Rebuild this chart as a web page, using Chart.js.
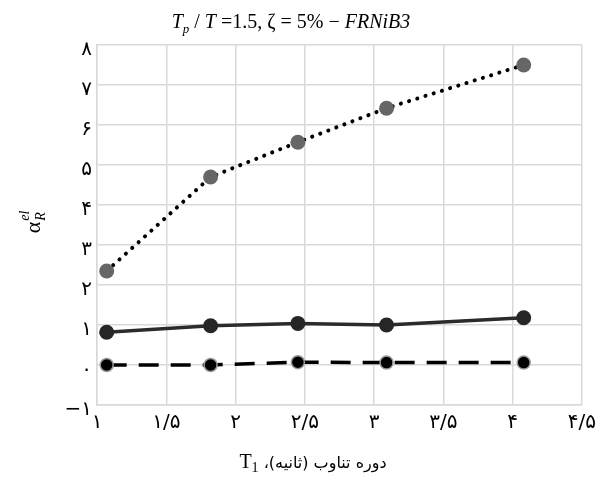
<!DOCTYPE html>
<html>
<head>
<meta charset="utf-8">
<script src="https://cdn.jsdelivr.net/npm/chart.js@4/dist/chart.umd.min.js"></script>
<style>
  html, body { margin: 0; padding: 0; background: #fff; }
  #wrap { width: 602px; height: 481px; }
</style>
</head>
<body>
<div id="wrap"><canvas id="lineChart"></canvas></div>
<script>
// periods T1 (s)
var periods = [1.07, 1.82, 2.45, 3.09, 4.08];
// alpha_R^el series
var dottedSeries = [2.35, 4.7, 5.57, 6.42, 7.5];
var solidSeries = [0.82, 0.98, 1.04, 1.0, 1.18];
var dashedSeries = [0.0, 0.0, 0.07, 0.06, 0.06];

var xTicks = [1, 1.5, 2, 2.5, 3, 3.5, 4, 4.5];
var yTicks = [-1, 0, 1, 2, 3, 4, 5, 6, 7, 8];

var faDigits = ['۰', '۱', '۲', '۳', '۴', '۵', '۶', '۷', '۸', '۹'];
function toFa(v) {
    var s = String(Math.round(v * 10) / 10);
    var out = '';
    for (var i = 0; i < s.length; i++) {
        var c = s[i];
        if (c >= '0' && c <= '9') out += faDigits[+c];
        else if (c === '.') out += '/';
        else if (c === '-') out += '−';
        else out += c;
    }
    return out;
}

function pts(ys) {
    return periods.map(function (x, i) { return { x: x, y: ys[i] }; });
}

var gridColor = '#d9d9d9';
var tickFont = { family: "'DejaVu Sans'", size: 20 };

// titles drawn by hand (sub/superscripts)
var textPlugin = {
    id: 'texts',
    afterDraw: function (chart) {
        var ctx = chart.ctx;
        ctx.save();
        ctx.fillStyle = '#000';
        ctx.textBaseline = 'alphabetic';
        ctx.textAlign = 'left';

        // chart title
        var serif = "'Liberation Serif', serif";
        var parts = [
            ['T', 'italic 20px ' + serif, 0],
            ['p', 'italic 13px ' + serif, 5],
            [' / ', '20px ' + serif, 0],
            ['T', 'italic 20px ' + serif, 0],
            [' =1.5, ζ = 5% − ', '20px ' + serif, 0],
            ['FRNiB3', 'italic 20px ' + serif, 0]
        ];
        var total = 0;
        parts.forEach(function (p) { ctx.font = p[1]; total += ctx.measureText(p[0]).width; });
        var x = 291 - total / 2;
        parts.forEach(function (p) {
            ctx.font = p[1];
            ctx.fillText(p[0], x, 28 + p[2]);
            x += ctx.measureText(p[0]).width;
        });

        // y axis label
        ctx.save();
        ctx.translate(34, 222);
        ctx.rotate(-Math.PI / 2);
        ctx.font = "22px " + serif;
        var wA = ctx.measureText('α').width;
        ctx.font = 'italic 14px ' + serif;
        var wR = ctx.measureText('R').width;
        var wE = ctx.measureText('el').width;
        var w = wA + Math.max(wR, wE) + 1;
        var x0 = -w / 2;
        ctx.font = "22px " + serif;
        ctx.fillText('α', x0, 6);
        ctx.font = 'italic 14px ' + serif;
        ctx.fillText('R', x0 + wA + 1, 11);
        ctx.fillText('el', x0 + wA + 1, -5);
        ctx.restore();

        // x axis label (rtl)
        var fa = 'دوره تناوب (ثانیه)، ';
        ctx.font = "16px 'DejaVu Sans'";
        var wFa = ctx.measureText(fa).width;
        ctx.font = '20px ' + serif;
        var wT = ctx.measureText('T').width;
        ctx.font = '14px ' + serif;
        var w1 = ctx.measureText('1').width;
        var tot = wFa + wT + w1;
        var left = 313 - tot / 2;
        var base = 468;
        ctx.font = '20px ' + serif;
        ctx.fillText('T', left, base);
        ctx.font = '14px ' + serif;
        ctx.fillText('1', left + wT, base + 4);
        ctx.font = "16px 'DejaVu Sans'";
        ctx.direction = 'rtl';
        ctx.textAlign = 'right';
        ctx.fillText(fa, left + tot, base);
        ctx.restore();
    }
};

var config = {
    type: 'line',
    data: {
        datasets: [{
            label: 'dotted',
            data: pts(dottedSeries),
            borderColor: '#000',
            borderWidth: 4,
            borderDash: [0.1, 8.5],
            borderCapStyle: 'round',
            pointRadius: 7.5,
            pointBackgroundColor: '#666',
            pointBorderColor: '#666',
            pointBorderWidth: 0
        }, {
            label: 'solid',
            data: pts(solidSeries),
            borderColor: '#2b2b2b',
            borderWidth: 3.5,
            pointRadius: 7.5,
            pointBackgroundColor: '#262626',
            pointBorderColor: '#262626',
            pointBorderWidth: 0
        }, {
            label: 'dashed',
            data: pts(dashedSeries),
            borderColor: '#000',
            borderWidth: 3.5,
            borderDash: [20, 12],
            pointRadius: 6.5,
            pointBackgroundColor: '#000',
            pointBorderColor: '#999',
            pointBorderWidth: 1.5
        }]
    },
    options: {
        responsive: false,
        animation: false,
        layout: { padding: { top: 45, right: 14, bottom: 36, left: 0 } },
        plugins: {
            legend: { display: false },
            tooltip: { enabled: false }
        },
        scales: {
            x: {
                type: 'linear',
                min: 1,
                max: 4.5,
                afterBuildTicks: function (scale) {
                    scale.ticks = xTicks.map(function (v) { return { value: v }; });
                },
                afterFit: function (scale) { scale.height = 40; },
                ticks: {
                    color: '#000',
                    font: tickFont,
                    padding: 6,
                    maxRotation: 0,
                    autoSkip: false,
                    callback: function (v) { return toFa(v); }
                },
                grid: { color: gridColor, lineWidth: 1.5, drawTicks: false },
                border: { color: gridColor, width: 1.5 }
            },
            y: {
                min: -1,
                max: 8,
                afterBuildTicks: function (scale) {
                    scale.ticks = yTicks.map(function (v) { return { value: v }; });
                },
                afterFit: function (scale) { scale.width = 97; },
                ticks: {
                    color: '#000',
                    font: tickFont,
                    padding: 5,
                    labelOffset: 5,
                    autoSkip: false,
                    callback: function (v) { return toFa(v); }
                },
                grid: { color: gridColor, lineWidth: 1.5, drawTicks: false },
                border: { color: gridColor, width: 1.5 }
            }
        }
    },
    plugins: [textPlugin]
};

var canvas = document.getElementById('lineChart');
canvas.width = 602;
canvas.height = 481;
var lineChart = new Chart(canvas, config);
</script>
</body>
</html>
